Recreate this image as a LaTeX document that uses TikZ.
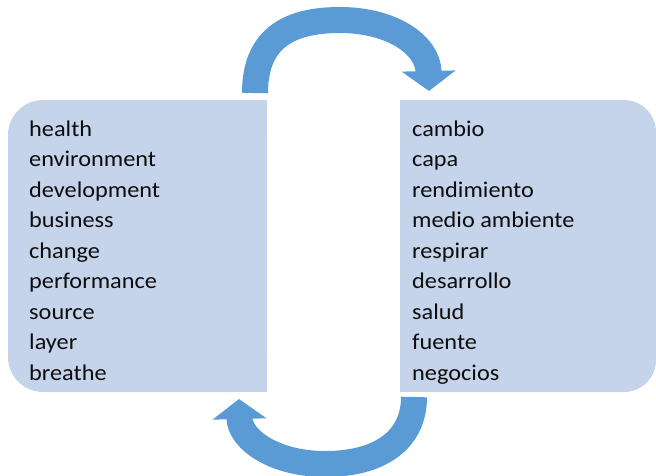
\documentclass[tikz,border=0pt]{standalone}
\usepackage{fontspec}
\setmainfont[FakeStretch=1.08]{Carlito}
\usetikzlibrary{arrows.meta}

\definecolor{listblue}{HTML}{C5D4EA}
\definecolor{loopblue}{HTML}{5B9BD5}

\begin{document}
\begin{tikzpicture}[x=1pt, y=-1pt,
            item/.style={anchor=base west, inner sep=0pt, text=black!95, font=\fontsize{22.5}{27}\selectfont},
            loop/.style={draw=loopblue, line width=26pt, -{Triangle[width=53pt, length=20pt]}}]

            \useasboundingbox (0,0) rectangle (656,475);

            % List backgrounds
            \fill[listblue, rounded corners=35pt] (8,100) rectangle (267,392);
            \fill[listblue] (150,100) rectangle (267,392);
            \fill[listblue, rounded corners=32pt] (400,100) rectangle (656,392);
            \fill[listblue] (400,100) rectangle (520,392);

            % English words
            \foreach \w [count=\i] in {health, environment, development, business, change, performance, source, layer, breathe}
                \node[item] (l\i) at (29,{136+30.5*(\i-1)}) {\w};

            % Spanish words
            \foreach \w [count=\i] in {cambio, capa, rendimiento, medio ambiente, respirar, desarrollo, salud, fuente, negocios}
                \node[item] (r\i) at (412,{136+30.5*(\i-1)}) {\w};

            % Arrow ends
            \coordinate (top start) at (255,93);
            \coordinate (top end) at (429,91);
            \coordinate (bottom start) at (414,397);
            \coordinate (bottom end) at (239,399);

            % Loop arrows
            \draw[loop] (top start) .. controls (255,36) and (292,20) .. (340,20) .. controls (392,20) and (428,45) .. (top end);
            \draw[loop] (bottom start) .. controls (414,440) and (380,464) .. (325,464) .. controls (275,464) and (240,440) .. (bottom end);
        \end{tikzpicture}
\end{document}
